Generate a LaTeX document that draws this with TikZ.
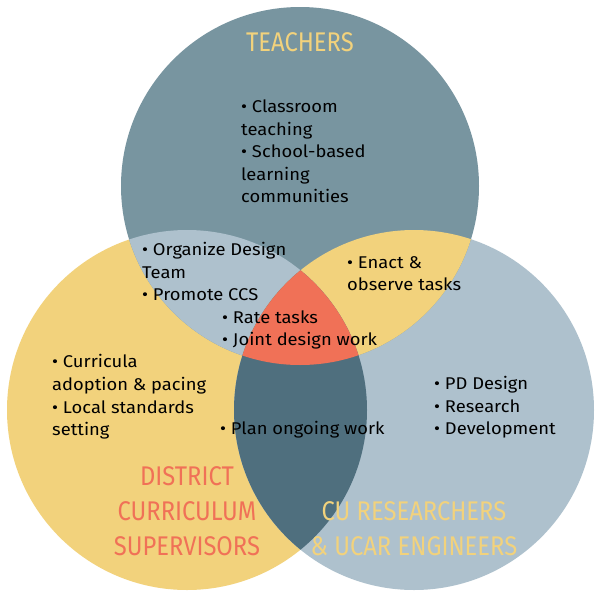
\documentclass[tikz,border=0pt]{standalone}
\usepackage{fontspec}
\setmainfont[FakeStretch=1.08]{Fira Sans}
\newfontfamily\headfont[FakeStretch=0.88]{Fira Sans}
\definecolor{slate}{HTML}{7895A0}
\definecolor{sand}{HTML}{F2D27C}
\definecolor{mist}{HTML}{AEC1CD}
\definecolor{deep}{HTML}{4F6F7E}
\definecolor{coral}{HTML}{F07157}
\begin{document}
\begin{tikzpicture}[x=1pt,y=-1pt,
  body/.style={font=\fontsize{17}{22.6}\selectfont, align=left, inner sep=0pt, anchor=west, text=black},
  head/.style={font=\headfont\fontsize{27}{35}\selectfont, align=center, inner sep=0pt}]
\useasboundingbox (0,0) rectangle (600,600);
\fill[white] (0,0) rectangle (600,600);
\coordinate (T) at (300,186);
\coordinate (L) at (187,410);
\coordinate (R) at (414,410);
\def\rT{179}
\def\rL{180}
% base circles
\fill[sand] (L) circle[radius=\rL];
\fill[mist] (R) circle[radius=\rL];
\fill[slate] (T) circle[radius=\rT];
% top & left
\begin{scope}
\clip (T) circle[radius=\rT];
\fill[mist] (L) circle[radius=\rL];
\end{scope}
% top & right
\begin{scope}
\clip (T) circle[radius=\rT];
\fill[sand] (R) circle[radius=\rL];
\end{scope}
% left & right
\begin{scope}
\clip (L) circle[radius=\rL];
\fill[deep] (R) circle[radius=\rL];
\end{scope}
% center
\begin{scope}
\clip (T) circle[radius=\rT];
\clip (L) circle[radius=\rL];
\fill[coral] (R) circle[radius=\rL];
\end{scope}
% headings
\node[head, text=sand] (hT) at (300,42) {TEACHERS};
\node[head, text=coral] (hL) at (187,511) {DISTRICT\\CURRICULUM\\SUPERVISORS};
\node[head, text=sand] (hR) at (414,529) {CU RESEARCHERS\\\& UCAR ENGINEERS};
% texts
\node[body] (tT) at (241,151.5) {• Classroom\\teaching\\• School-based\\learning\\communities};
\node[body] (tTL) at (142,271.5) {• Organize Design\\Team\\• Promote CCS};
\node[body] (tTR) at (347,273.5) {• Enact \&\\observe tasks};
\node[body] (tC) at (222,330) {• Rate tasks\\• Joint design work};
\node[body] (tL) at (52,397) {• Curricula\\adoption \& pacing\\• Local standards\\setting};
\node[body] (tR) at (434,407.5) {• PD Design\\• Research\\• Development};
\node[body] (tLR) at (220,429.5) {• Plan ongoing work};
\end{tikzpicture}
\end{document}
